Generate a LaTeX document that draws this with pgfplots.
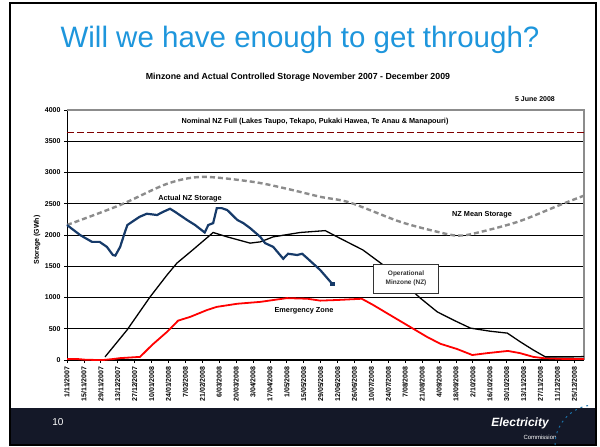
\documentclass[border=0pt]{standalone}
\usepackage{pgfplots}
\pgfplotsset{compat=1.18}
\usepackage{fontspec}
\setmainfont{Liberation Sans}
\definecolor{titleblue}{RGB}{30,150,220}
\definecolor{storblue}{RGB}{22,58,105}
\definecolor{meangray}{RGB}{140,140,140}
\definecolor{darkred}{RGB}{128,0,0}
\definecolor{band}{RGB}{20,24,40}
\begin{document}
\begin{tikzpicture}[x=1pt,y=1pt]
\path[use as bounding box] (0,0) rectangle (600,447);
\fill[band] (9,39) rectangle (597,2);
\draw[line width=2pt] (10,444) rectangle (596,2);
\node[text=titleblue,font=\fontsize{29.5}{32}\selectfont] at (300,407) {Will we have enough to get through?};
\node[font=\fontsize{8.8}{10}\selectfont\bfseries] at (298,370) {Minzone and Actual Controlled Storage November 2007 - December 2009};
\node[font=\fontsize{7}{8}\selectfont\bfseries] at (535,348) {5 June 2008};
\node[font=\fontsize{7}{8}\selectfont\bfseries,rotate=90] at (37,207) {Storage (GWh)};
\begin{axis}[
  at={(67pt,87pt)}, anchor=origin,
  width=517pt, height=250pt, scale only axis,
  xmin=0, xmax=428, ymin=0, ymax=4000,
  axis lines=left, axis line style={-, black, line width=1pt},
  xtick={0,14,...,420},
  xticklabels={{1/11/2007},{15/11/2007},{29/11/2007},{13/12/2007},{27/12/2007},{10/01/2008},{24/01/2008},{7/02/2008},{21/02/2008},{6/03/2008},{20/03/2008},{3/04/2008},{17/04/2008},{1/05/2008},{15/05/2008},{29/05/2008},{12/06/2008},{26/06/2008},{10/07/2008},{24/07/2008},{7/08/2008},{21/08/2008},{4/09/2008},{18/09/2008},{2/10/2008},{16/10/2008},{30/10/2008},{13/11/2008},{27/11/2008},{11/12/2008},{25/12/2008}},
  x tick label style={rotate=90, anchor=east, font=\fontsize{7}{8}\selectfont\bfseries},
  ytick={0,500,...,4000},
  y tick label style={font=\fontsize{7}{8}\selectfont\bfseries},
  /pgf/number format/1000 sep={},
  /pgf/number format/assume math mode=true,
  tick align=outside, major tick length=3pt,
  tick style={black, line width=0.8pt},
  ymajorgrids, major grid style={black, line width=0.9pt},
  clip=false,
]
\draw[meangray, line width=1.2pt] (rel axis cs:0,1) -- (rel axis cs:1,1) -- (rel axis cs:1,0);
% Nominal NZ full
\addplot[darkred, line width=1.5pt, dash pattern=on 7pt off 3pt] coordinates {(0,3640) (428,3640)};
% NZ mean storage
\addplot[meangray, line width=2.4pt, dash pattern=on 5pt off 3pt, smooth] coordinates {
(0,2160) (44,2480) (83,2820) (112,2930) (154,2850) (182,2740) (210,2610) (234,2520) (276,2210) (309,2040) (323,1990) (336,2020) (373,2210) (408,2480) (428,2630)};
% Emergency zone
\addplot[red, line width=1.8pt] coordinates {
(0,15) (9,15) (15,5) (25,0) (30,0) (38,15) (44,30) (60.5,50) (70.4,240) (82.8,450) (92,630) (102,690) (116,800) (124,850) (141,900) (160,930) (182,990) (199,980) (209.6,950) (223.7,960) (244,980) (253.5,880) (270,690) (284,530) (298,370) (309,260) (323,175) (335.5,80) (348,110) (365,145) (375,110) (386,50) (394,30) (414,15) (428,15)};
% Operational minzone
\addplot[black, line width=1.3pt] coordinates {
(31.5,50) (49.7,480) (68.8,1010) (82.8,1360) (91,1550) (104,1760) (121,2040) (132.6,1970) (151.6,1870) (160,1890) (170.7,1970) (193,2040) (213.8,2070) (223.7,1970) (245,1760) (261.8,1520) (292.5,990) (306.5,770) (319.8,640) (334,510) (350.5,460) (364.5,430) (375.3,290) (386,160) (396,50) (419,50) (428,55)};
% Actual NZ storage
\addplot[storblue, line width=2.2pt] coordinates {
(0,2160) (10.8,2000) (20.7,1890) (27,1890) (33,1810) (38,1680) (40,1670) (44,1810) (48,2050) (50,2160) (60,2290) (66,2340) (74.6,2320) (79.5,2370) (85.3,2420) (89.5,2370) (99.4,2240) (106,2160) (114,2040) (117,2160) (121,2190) (124,2430) (128,2430) (132.6,2400) (141,2240) (146,2190) (151.6,2110) (160,1970) (164,1870) (170.7,1810) (179,1620) (183,1700) (190.6,1680) (194.7,1700) (198.8,1630) (209.6,1440) (219.5,1220)};
\addplot[storblue, only marks, mark=square*, mark size=1.6pt] coordinates {(219.5,1220)};
\end{axis}
\node[font=\fontsize{7.3}{8}\selectfont\bfseries] at (315,325) {Nominal NZ Full (Lakes Taupo, Tekapo, Pukaki Hawea, Te Anau \& Manapouri)};
\node[font=\fontsize{7.3}{8}\selectfont\bfseries] at (190,248) {Actual NZ Storage};
\node[font=\fontsize{7.3}{8}\selectfont\bfseries] at (482,232) {NZ Mean Storage};
\node[font=\fontsize{7.3}{8}\selectfont\bfseries] at (304,136) {Emergency Zone};
\node[draw=black!80, fill=white, line width=0.6pt, minimum width=65pt, minimum height=29pt, align=center, inner sep=1pt, text=black!80, font=\fontsize{6.5}{9}\selectfont\bfseries] at (406,168.5) {Operational\\Minzone (NZ)};
\node[text=white, font=\fontsize{10}{12}\selectfont] at (58,25) {10};
\node[text=white, font=\fontsize{12}{14}\selectfont\bfseries\itshape] at (520,24) {Electricity};
\node[text=white!70, font=\fontsize{6}{7}\selectfont] at (540,10) {Commission};
\draw[titleblue!70!band, line width=1pt, dash pattern=on 2pt off 4pt] (555,2) arc (180:100:40);
\end{tikzpicture}
\end{document}
